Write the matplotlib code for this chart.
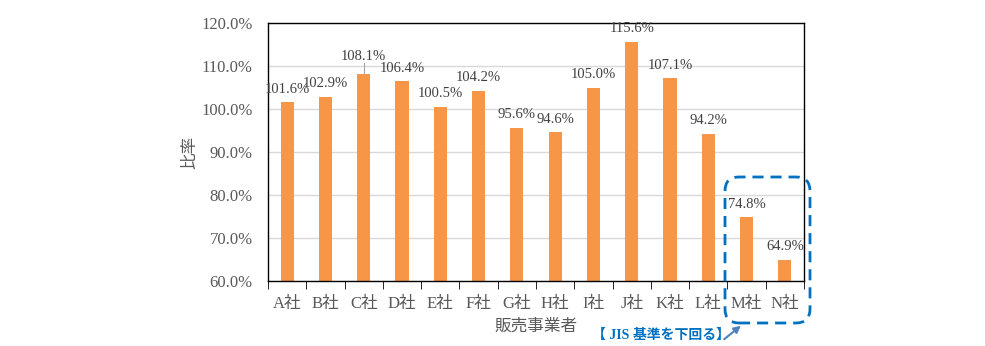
import matplotlib
matplotlib.use("Agg")
import matplotlib.pyplot as plt
from matplotlib.patches import FancyBboxPatch, FancyArrowPatch
from matplotlib.ticker import FixedLocator, FuncFormatter

companies = ["A社", "B社", "C社", "D社", "E社", "F社", "G社",
             "H社", "I社", "J社", "K社", "L社", "M社", "N社"]
ratios = [101.6, 102.9, 108.1, 106.4, 100.5, 104.2, 95.6,
          94.6, 105.0, 115.6, 107.1, 94.2, 74.8, 64.9]
yticks = [60, 70, 80, 90, 100, 110, 120]

fonts = ["Liberation Serif", "Noto Sans CJK JP"]
gray = "#595959"
bar_color = "#F79646"

fig = plt.figure(figsize=(9.85, 3.46), dpi=100)
ax = fig.add_axes([268 / 985, 1 - 281 / 346, (804 - 268) / 985, (281 - 23) / 346])

x = list(range(len(companies)))
ax.bar(x, ratios, width=0.34, color=bar_color, zorder=2)

ax.set_xlim(-0.5, len(companies) - 0.5)
ax.set_ylim(60, 120)
ax.yaxis.set_major_locator(FixedLocator(yticks))
ax.yaxis.set_major_formatter(FuncFormatter(lambda v, p: f"{v:.1f}%"))
ax.grid(axis="y", color="#D9D9D9", linewidth=1, zorder=0)
for s in ax.spines.values():
    s.set_color("black")
    s.set_linewidth(1)

ax.set_xticks(x)
ax.set_xticklabels(companies, family=fonts, fontsize=12, color=gray)
ax.tick_params(axis="x", length=0, pad=11)
ax.set_xticks([i - 0.5 for i in range(len(companies) + 1)], minor=True)
ax.tick_params(axis="x", which="minor", length=6, direction="out", color="black")
ax.tick_params(axis="y", length=0, pad=11)
for lab in ax.get_yticklabels():
    lab.set_family(fonts)
    lab.set_fontsize(12)
    lab.set_color(gray)

ax.set_ylabel("比率", family=["Noto Sans CJK JP"], fontsize=12, color=gray, labelpad=2)
ax.set_xlabel("販売事業者", family=["Noto Sans CJK JP"], fontsize=12, color=gray, labelpad=4)

# Value labels above each bar; C's label sits higher with a leader line
for i, v in enumerate(ratios):
    if i == 2:
        ax.plot([i, i], [v, v + 2.6], color="#A6A6A6", linewidth=0.8, zorder=3)
        ax.text(i, v + 2.7, f"{v:.1f}%", ha="center", va="bottom",
                family=fonts, fontsize=10.5, color="#404040")
    else:
        ax.text(i, v + 1.5, f"{v:.1f}%", ha="center", va="bottom",
                family=fonts, fontsize=10.5, color="#404040")

# Highlight box for the companies below the JIS standard
box = FancyBboxPatch((725, 346 - 323), 85, 146,
                     boxstyle="round,pad=0,rounding_size=14",
                     transform=None, fill=False, edgecolor="#0070C0",
                     linewidth=2, linestyle=(0, (4, 2.5)), zorder=5, clip_on=False)
fig.patches.append(box)

fig.text(592 / 985, 1 - 335 / 346, "【 JIS 基準を下回る】", family=["Liberation Serif", "Noto Sans CJK JP"],
         fontsize=10, fontweight="bold", color="#0070C0", ha="left", va="center")
fig.add_artist(FancyArrowPatch(
    (722 / 985, 1 - 341 / 346), (743 / 985, 1 - 324 / 346),
    transform=fig.transFigure, arrowstyle="-|>", mutation_scale=10,
    color="#4F81BD", linewidth=1.5))

fig.savefig("out.png", dpi=100)
